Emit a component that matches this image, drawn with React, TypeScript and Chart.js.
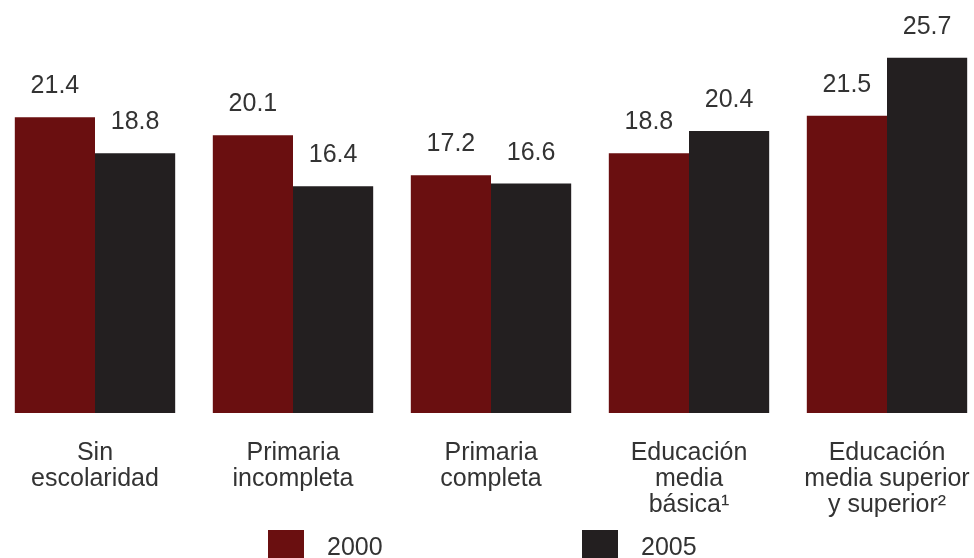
import React, { useEffect, useRef } from 'react';
import { Chart, registerables } from 'chart.js';

Chart.register(...registerables);

const categories: string[][] = [
  ['Sin', 'escolaridad'],
  ['Primaria', 'incompleta'],
  ['Primaria', 'completa'],
  ['Educación', 'media', 'básica¹'],
  ['Educación', 'media superior', 'y superior²'],
];
const seriesNames: string[] = ['2000', '2005'];
const values2000: number[] = [21.4, 20.1, 17.2, 18.8, 21.5];
const values2005: number[] = [18.8, 16.4, 16.6, 20.4, 25.7];

const seriesColors = ['#6a0f10', '#231f20'];
const FONT_FAMILY = '"Liberation Sans", Arial, Helvetica, sans-serif';
const TEXT_COLOR = '#333333';

const valueLabels = {
  id: 'valueLabels',
  afterDatasetsDraw(chart: any) {
    const ctx = chart.ctx;
    ctx.save();
    ctx.font = `25px ${FONT_FAMILY}`;
    ctx.fillStyle = TEXT_COLOR;
    ctx.textAlign = 'center';
    ctx.textBaseline = 'alphabetic';
    chart.data.datasets.forEach((ds: any, i: number) => {
      const meta = chart.getDatasetMeta(i);
      meta.data.forEach((bar: any, j: number) => {
        ctx.fillText(Number(ds.data[j]).toFixed(1), bar.x, bar.y - 24);
      });
    });
    ctx.restore();
  },
};

const customLegend = {
  id: 'customLegend',
  afterDraw(chart: any) {
    const ctx = chart.ctx;
    ctx.save();
    ctx.font = `25px ${FONT_FAMILY}`;
    ctx.textAlign = 'left';
    ctx.textBaseline = 'alphabetic';
    chart.data.datasets.forEach((ds: any, i: number) => {
      const boxX = 272 + 314 * i;
      const boxY = 530;
      ctx.fillStyle = ds.backgroundColor as string;
      ctx.fillRect(boxX, boxY, 36, 36);
      ctx.fillStyle = TEXT_COLOR;
      ctx.fillText(ds.label, boxX + 59, 555);
    });
    ctx.restore();
  },
};

export default function App() {
  const canvasRef = useRef<HTMLCanvasElement | null>(null);

  useEffect(() => {
    if (!canvasRef.current) return;
    const chart = new Chart(canvasRef.current, {
      type: 'bar',
      data: {
        labels: categories,
        datasets: [
          {
            label: seriesNames[0],
            data: values2000,
            backgroundColor: seriesColors[0],
            borderWidth: 0,
            barPercentage: 1,
            categoryPercentage: 0.81,
          },
          {
            label: seriesNames[1],
            data: values2005,
            backgroundColor: seriesColors[1],
            borderWidth: 0,
            barPercentage: 1,
            categoryPercentage: 0.81,
          },
        ],
      },
      options: {
        animation: false,
        responsive: true,
        maintainAspectRatio: false,
        layout: { padding: { top: 26, left: 0, right: 0, bottom: 0 } },
        plugins: {
          legend: { display: false },
          tooltip: { enabled: false },
        },
        scales: {
          x: {
            offset: true,
            grid: { display: false },
            border: { display: false },
            ticks: {
              autoSkip: false,
              maxRotation: 0,
              minRotation: 0,
              padding: 19,
              color: TEXT_COLOR,
              font: { family: FONT_FAMILY, size: 25, lineHeight: 1.04 },
            },
            afterFit(scale: any) {
              scale.height = 167;
              scale.paddingLeft = 0;
              scale.paddingRight = 0;
            },
          },
          y: {
            display: false,
            min: 0,
            max: 28,
          },
        },
      },
      plugins: [valueLabels, customLegend],
    });
    return () => chart.destroy();
  }, []);

  return (
    <div
      style={{
        position: 'fixed',
        left: 0,
        top: 0,
        width: 974,
        height: 558,
        overflow: 'hidden',
        background: '#ffffff',
      }}
    >
      <div style={{ position: 'absolute', left: -4, top: 0, width: 990, height: 580 }}>
        <canvas ref={canvasRef} />
      </div>
    </div>
  );
}
